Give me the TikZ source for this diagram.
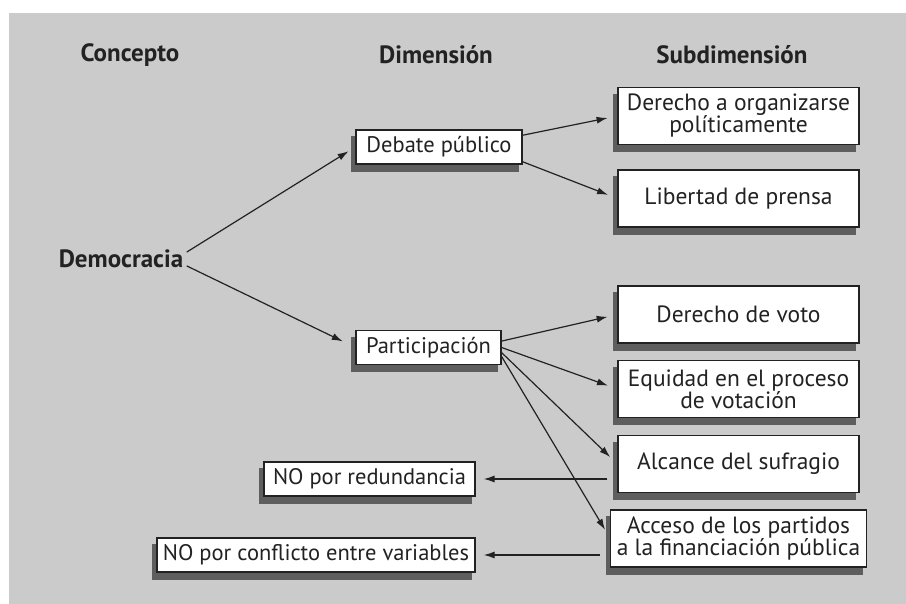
\documentclass[tikz,border=0pt]{standalone}
\usepackage{fontspec}
\setmainfont{PT Sans}
\usetikzlibrary{arrows.meta,backgrounds}
\definecolor{mybackgray}{HTML}{CBCBCB}
\definecolor{myshadow}{HTML}{5E5E5E}
\definecolor{myblack}{HTML}{222222}

\tikzset{
  header/.style={text=myblack, font=\bfseries\fontsize{25}{28}\selectfont},
  box/.style={draw=myblack, fill=white, text=myblack, line width=1.2pt,
    font=\fontsize{22.5}{24}\selectfont, inner xsep=6pt, minimum height=34pt},
  subbox/.style={box, minimum width=241pt, minimum height=57pt, align=center,
    font=\fontsize{23.5}{22}\selectfont},
  arrow/.style={draw=myblack, line width=1.2pt, -{Latex[length=11pt,width=7pt]}, shorten >=10pt}
}

\begin{document}
\begin{tikzpicture}[x=1pt,y=-1pt]

% BOUNDING BOX
\useasboundingbox (0,0) rectangle (906,604);

% HEADERS
\node[header] (concepto) at (130,55) {Concepto};
\node[header] (dimension) at (436,55) {Dimensión};
\node[header] (subdim) at (732,55) {Subdimensión};

% CONCEPT AND DIMENSIONS
\node[header] (democracia) at (121,259) {Democracia};
\node[box, minimum width=166pt] (debate) at (439,147) {Debate público};
\node[box, minimum width=145pt] (particip) at (428.5,347.5) {Participación};

% SUBDIMENSIONS
\node[subbox] (organiz) at (738.5,116) {Derecho a organizarse\\políticamente};
\node[subbox] (prensa) at (738.5,198.5) {Libertad de prensa};
\node[subbox] (voto) at (738.5,314.5) {Derecho de voto};
\node[subbox] (equidad) at (738.5,389) {Equidad en el proceso\\de votación};
\node[subbox] (alcance) at (738.5,464) {Alcance del sufragio};
\node[subbox] (acceso) at (738.5,538.5) {Acceso de los partidos\\a la financiación pública};

% DISCARDED
\node[box, minimum width=211pt] (redund) at (369.5,479) {NO por redundancia};
\node[box, minimum width=318pt] (conflicto) at (316,555) {NO por conflicto entre variables};

% BACKGROUND AND SHADOWS
\begin{pgfonlayer}{background}
\fill[mybackgray] (9,13) rectangle (906,604);
\foreach \n in {debate,particip,organiz,prensa,voto,equidad,alcance,acceso,redund,conflicto} {
  \fill[myshadow] ([xshift=-4pt,yshift=-7pt]\n.south west) rectangle ([xshift=-4pt,yshift=-7pt]\n.north east);
}
\end{pgfonlayer}

% ARROWS
\draw[arrow, shorten >=8pt] (democracia.6) -- (debate.west);
\draw[arrow, shorten >=14pt] (democracia.-6) -- (particip.west);
\draw[arrow] (debate.8) -- (organiz.west);
\draw[arrow] (debate.-10) -- (prensa.west);
\foreach \a/\t in {5/voto,0/equidad,-4/alcance,-7/acceso} {
  \draw[arrow] (particip.\a) -- (\t.west);
}
\draw[arrow, shorten <=10pt, shorten >=8pt] (alcance.west |- redund.east) -- (redund.east);
\draw[arrow, shorten <=10pt, shorten >=8pt] (acceso.west |- conflicto.east) -- (conflicto.east);

\end{tikzpicture}
\end{document}
